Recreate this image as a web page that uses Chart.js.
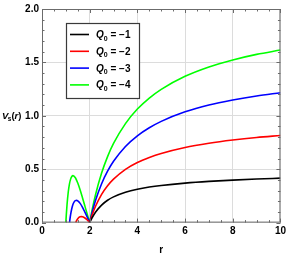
<!DOCTYPE html>
<html>
<head>
<meta charset="utf-8">
<script src="https://cdn.jsdelivr.net/npm/chart.js@4"></script>
<style>
  html, body { margin: 0; padding: 0; background: #fff; }
  #wrap { width: 289px; height: 256px; position: relative; }
</style>
</head>
<body>
<div id="wrap"><canvas id="vsChart"></canvas></div>
<script>
// series labels and colours
const chargeLabels = ["-1", "-2", "-3", "-4"];
const lineColors = ["#000000", "#ff0000", "#0000ff", "#00ff00"];

// outer branch, r >= 2 (shared r grid)
const rOuter = [2, 2.1, 2.25, 2.5, 2.75, 3, 3.5, 4, 4.5, 5, 6, 7, 8, 9, 10];
const vOuterQ1 = [0, 0.045, 0.100, 0.164, 0.209, 0.241, 0.284, 0.313, 0.333, 0.348, 0.370, 0.386, 0.398, 0.408, 0.416];
const vOuterQ2 = [0, 0.069, 0.155, 0.264, 0.345, 0.407, 0.499, 0.563, 0.610, 0.648, 0.704, 0.743, 0.773, 0.797, 0.816];
const vOuterQ3 = [0, 0.093, 0.211, 0.364, 0.481, 0.574, 0.713, 0.813, 0.888, 0.948, 1.037, 1.101, 1.148, 1.186, 1.216];
const vOuterQ4 = [0, 0.117, 0.266, 0.464, 0.618, 0.741, 0.927, 1.063, 1.166, 1.248, 1.370, 1.458, 1.523, 1.575, 1.616];

// inner lobes, r < 2 (Q0 = -1 has none above zero)
const rInnerQ2 = [1.414, 1.45, 1.5, 1.55, 1.6, 1.65, 1.7, 1.8, 1.9, 2];
const vInnerQ2 = [0, 0.019, 0.037, 0.049, 0.055, 0.056, 0.054, 0.043, 0.024, 0];
const rInnerQ3 = [1.155, 1.17, 1.2, 1.25, 1.3, 1.35, 1.4, 1.45, 1.5, 1.6, 1.7, 1.8, 1.9, 2];
const vInnerQ3 = [0, 0.028, 0.074, 0.132, 0.171, 0.194, 0.206, 0.208, 0.204, 0.180, 0.143, 0.098, 0.050, 0];
const rInnerQ4 = [1, 1.02, 1.05, 1.1, 1.15, 1.2, 1.25, 1.3, 1.4, 1.5, 1.6, 1.7, 1.8, 1.9, 2];
const vInnerQ4 = [0, 0.075, 0.168, 0.284, 0.361, 0.407, 0.432, 0.440, 0.420, 0.370, 0.305, 0.231, 0.154, 0.076, 0];

const toPoints = (xs, ys) => xs.map((x, i) => ({ x: x, y: ys[i] }));

const outerSets = [vOuterQ1, vOuterQ2, vOuterQ3, vOuterQ4];
const innerSets = [null, [rInnerQ2, vInnerQ2], [rInnerQ3, vInnerQ3], [rInnerQ4, vInnerQ4]];

const datasets = [];
outerSets.forEach((vals, i) => {
  datasets.push({
    label: "Q0 = " + chargeLabels[i],
    data: toPoints(rOuter, vals),
    borderColor: lineColors[i],
    borderWidth: 1.6,
    pointRadius: 0,
    fill: false,
    cubicInterpolationMode: "monotone"
  });
  if (innerSets[i]) {
    datasets.push({
      label: "",
      data: toPoints(innerSets[i][0], innerSets[i][1]),
      borderColor: lineColors[i],
      borderWidth: 1.6,
      pointRadius: 0,
      fill: false,
      cubicInterpolationMode: "monotone"
    });
  }
});

const FONT = '"Liberation Sans", Arial, sans-serif';

// frame, inward ticks, legend box and y title (Mathematica look)
const framePlugin = {
  id: "framePlugin",
  afterDraw(chart) {
    const ctx = chart.ctx;
    const a = chart.chartArea;
    const xs = chart.scales.x, ys = chart.scales.y;
    ctx.save();
    ctx.strokeStyle = "#6b6b6b";
    ctx.lineWidth = 1;
    ctx.strokeRect(a.left + 0.5, a.top + 0.5, a.right - a.left - 1, a.bottom - a.top - 1);

    // x ticks every 0.5, major every 2
    for (let k = 0; k <= 20; k++) {
      const v = k * 0.5;
      const px = Math.round(xs.getPixelForValue(v)) + 0.5;
      const len = (k % 4 === 0) ? 4 : 2.5;
      ctx.beginPath();
      ctx.moveTo(px, a.bottom); ctx.lineTo(px, a.bottom - len);
      ctx.moveTo(px, a.top); ctx.lineTo(px, a.top + len);
      ctx.stroke();
    }
    // y ticks every 0.1, major every 0.5
    for (let k = 0; k <= 20; k++) {
      const v = k * 0.1;
      const py = Math.round(ys.getPixelForValue(v)) + 0.5;
      const len = (k % 5 === 0) ? 4 : 2.5;
      ctx.beginPath();
      ctx.moveTo(a.left, py); ctx.lineTo(a.left + len, py);
      ctx.moveTo(a.right, py); ctx.lineTo(a.right - len, py);
      ctx.stroke();
    }

    // legend box
    const bx = 66, by = 23, bw = 73, bh = 75;
    ctx.fillStyle = "#fff";
    ctx.fillRect(bx, by, bw, bh);
    ctx.strokeStyle = "#3a3a3a";
    ctx.lineWidth = 1.2;
    ctx.strokeRect(bx + 0.5, by + 0.5, bw, bh);
    chargeLabels.forEach((q, i) => {
      const y = 34.5 + i * 16.8;
      ctx.strokeStyle = lineColors[i];
      ctx.lineWidth = 1.6;
      ctx.beginPath();
      ctx.moveTo(70, y); ctx.lineTo(89, y);
      ctx.stroke();
      ctx.fillStyle = "#000";
      ctx.textBaseline = "alphabetic";
      ctx.textAlign = "left";
      let x = 96;
      const base = y + 3.5;
      ctx.font = "italic bold 10px " + FONT;
      ctx.fillText("Q", x, base);
      x += ctx.measureText("Q").width;
      ctx.font = "bold 7px " + FONT;
      ctx.fillText("0", x, base + 2.5);
      x += ctx.measureText("0").width;
      ctx.font = "bold 10px " + FONT;
      ctx.fillText(" = \u2212" + q.replace("-", ""), x, base);
    });

    // y axis title V_s(r)
    ctx.fillStyle = "#000";
    let tx = 2;
    const tb = 118.5;
    ctx.font = "italic bold 9.5px " + FONT;
    ctx.fillText("V", tx, tb);
    tx += ctx.measureText("V").width - 0.5;
    ctx.font = "bold 6.5px " + FONT;
    ctx.fillText("s", tx, tb + 2.5);
    tx += ctx.measureText("s").width;
    ctx.font = "bold 9.5px " + FONT;
    ctx.fillText("(", tx, tb);
    tx += ctx.measureText("(").width;
    ctx.font = "italic bold 9.5px " + FONT;
    ctx.fillText("r", tx, tb);
    tx += ctx.measureText("r").width;
    ctx.font = "bold 9.5px " + FONT;
    ctx.fillText(")", tx, tb);
    ctx.restore();
  }
};

new Chart(document.getElementById("vsChart").getContext("2d"), {
  type: "line",
  data: { datasets: datasets },
  options: {
    responsive: true,
    maintainAspectRatio: false,
    animation: false,
    layout: { padding: { top: 6, right: 7, left: 0, bottom: 0 } },
    plugins: {
      legend: { display: false },
      tooltip: { enabled: false }
    },
    scales: {
      x: {
        type: "linear",
        min: 0,
        max: 10,
        ticks: {
          stepSize: 2,
          padding: 3,
          color: "#000",
          font: { family: FONT, size: 10, weight: "bold" }
        },
        grid: { color: "#dcdcdc", lineWidth: 1, drawTicks: false },
        border: { display: false },
        title: {
          display: true,
          text: "r",
          color: "#000",
          padding: { top: 5, bottom: 0 },
          font: { family: FONT, size: 10, weight: "bold" }
        },
        afterFit(scale) { scale.height = 33.4; }
      },
      y: {
        type: "linear",
        min: 0,
        max: 2,
        ticks: {
          stepSize: 0.5,
          padding: 3,
          color: "#000",
          font: { family: FONT, size: 10, weight: "bold" },
          callback: (v) => v.toFixed(1)
        },
        grid: { color: "#dcdcdc", lineWidth: 1, drawTicks: false },
        border: { display: false },
        afterFit(scale) { scale.width = 42; }
      }
    }
  },
  plugins: [framePlugin]
});
</script>
</body>
</html>
